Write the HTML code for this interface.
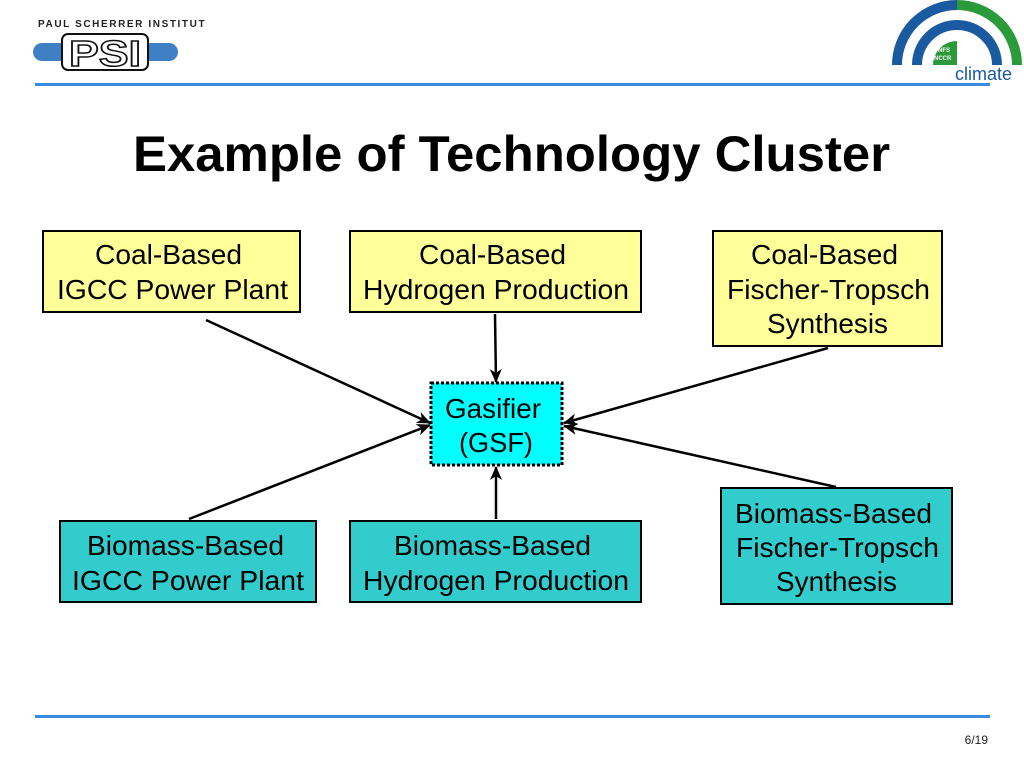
<!DOCTYPE html>
<html><head><meta charset="utf-8"><style>
html,body{margin:0;padding:0;background:#fff;}
svg{display:block;font-family:"Liberation Sans",Arial,sans-serif;}
</style></head><body>
<svg width="1024" height="768" viewBox="0 0 1024 768" xmlns="http://www.w3.org/2000/svg">
<defs>
<marker id="ah" markerWidth="14" markerHeight="12" refX="13" refY="6" orient="auto" markerUnits="userSpaceOnUse">
<path d="M0,0 L14,6 L0,12 L4,6 Z" fill="#000"/>
</marker>
</defs>
<!-- PSI logo -->
<text x="38" y="27" font-size="10" letter-spacing="1.6" fill="#222" font-weight="bold">PAUL SCHERRER INSTITUT</text>
<rect x="33" y="43" width="145" height="18" rx="9" fill="#3f7fc6"/>
<rect x="62" y="34" width="86" height="36" rx="6" fill="#fff" stroke="#111" stroke-width="2"/>
<text x="69" y="66" font-size="36" font-weight="bold" fill="#fff" stroke="#111" stroke-width="1.5" textLength="72" lengthAdjust="spacingAndGlyphs">PSI</text>
<!-- climate logo -->
<g fill="none" stroke-width="10">
<path d="M897,65 A60,60 0 0 1 957,5" stroke="#1a5aa0"/>
<path d="M957,5 A60,60 0 0 1 1017,65" stroke="#2a9a3a"/>
<path d="M917,65 A40,40 0 0 1 957,25" stroke="#1a5aa0"/>
<path d="M957,25 A40,40 0 0 1 997,65" stroke="#1a5aa0"/>
</g>
<path d="M933,65 A24,24 0 0 1 957,41 L957,65 Z" fill="#2a9a3a"/>
<text x="938" y="52" font-size="6" fill="#fff" font-weight="bold">NFS</text>
<text x="934" y="60" font-size="6" fill="#fff" font-weight="bold">NCCR</text>
<text x="955" y="80" font-size="18" fill="#1a5aa0" textLength="57" lengthAdjust="spacingAndGlyphs">climate</text>
<!-- lines -->
<rect x="35" y="83" width="955" height="3" fill="#3b8be0"/>
<rect x="35" y="715" width="955" height="3" fill="#3b8be0"/>
<text x="133" y="171" font-size="50" font-weight="bold" fill="#000" textLength="757" lengthAdjust="spacingAndGlyphs">Example of Technology Cluster</text>
<!-- boxes -->
<g stroke="#000" stroke-width="2">
<rect x="43" y="231" width="257" height="81" fill="#ffff99"/>
<rect x="350" y="231" width="291" height="81" fill="#ffff99"/>
<rect x="713" y="231" width="229" height="115" fill="#ffff99"/>
<rect x="60" y="521" width="256" height="81" fill="#33cccc"/>
<rect x="350" y="521" width="291" height="81" fill="#33cccc"/>
<rect x="721" y="488" width="231" height="116" fill="#33cccc"/>
<rect x="431" y="383" width="131" height="82" fill="#00ffff" stroke-dasharray="3,2" stroke-width="3"/>
</g>
<g font-size="28" fill="#000">
<text x="95" y="264" textLength="147" lengthAdjust="spacingAndGlyphs">Coal-Based</text><text x="57" y="299" textLength="231" lengthAdjust="spacingAndGlyphs">IGCC Power Plant</text>
<text x="419" y="264" textLength="147" lengthAdjust="spacingAndGlyphs">Coal-Based</text><text x="363" y="299" textLength="266" lengthAdjust="spacingAndGlyphs">Hydrogen Production</text>
<text x="751" y="264" textLength="147" lengthAdjust="spacingAndGlyphs">Coal-Based</text><text x="727" y="299" textLength="203" lengthAdjust="spacingAndGlyphs">Fischer-Tropsch</text><text x="767" y="333" textLength="121" lengthAdjust="spacingAndGlyphs">Synthesis</text>
<text x="87" y="555" textLength="197" lengthAdjust="spacingAndGlyphs">Biomass-Based</text><text x="72" y="590" textLength="232" lengthAdjust="spacingAndGlyphs">IGCC Power Plant</text>
<text x="394" y="555" textLength="197" lengthAdjust="spacingAndGlyphs">Biomass-Based</text><text x="363" y="590" textLength="266" lengthAdjust="spacingAndGlyphs">Hydrogen Production</text>
<text x="735" y="523" textLength="197" lengthAdjust="spacingAndGlyphs">Biomass-Based</text><text x="736" y="557" textLength="203" lengthAdjust="spacingAndGlyphs">Fischer-Tropsch</text><text x="776" y="591" textLength="121" lengthAdjust="spacingAndGlyphs">Synthesis</text>
<text x="445" y="418" textLength="96" lengthAdjust="spacingAndGlyphs">Gasifier</text><text x="459" y="452" textLength="74" lengthAdjust="spacingAndGlyphs">(GSF)</text>
</g>
<g stroke="#000" stroke-width="2.5" marker-end="url(#ah)">
<line x1="206" y1="320" x2="430" y2="423"/>
<line x1="495" y1="314" x2="496" y2="382"/>
<line x1="828" y1="348" x2="564" y2="423"/>
<line x1="189" y1="519" x2="430" y2="425"/>
<line x1="496" y1="519" x2="496" y2="467"/>
<line x1="836" y1="487" x2="564" y2="426"/>
</g>
<text x="988" y="744" font-size="12" text-anchor="end" fill="#222">6/19</text>
</svg>
</body></html>
